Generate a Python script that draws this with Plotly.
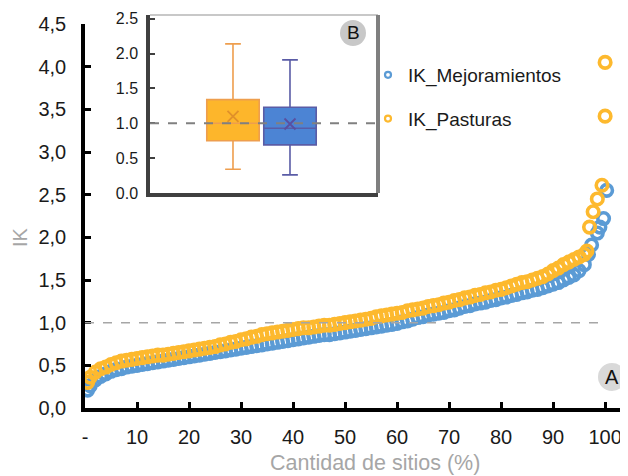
import plotly.graph_objects as go

# ---------------- data ----------------
pct_body = [1, 2, 3, 4, 5, 6, 7, 8, 9, 10, 11, 12, 13, 14, 15, 16, 17, 18, 19, 20,
            21, 22, 23, 24, 25, 26, 27, 28, 29, 30, 31, 32, 33, 34, 35, 36, 37, 38, 39, 40,
            41, 42, 43, 44, 45, 46, 47, 48, 49, 50, 51, 52, 53, 54, 55, 56, 57, 58, 59, 60,
            61, 62, 63, 64, 65, 66, 67, 68, 69, 70, 71, 72, 73, 74, 75, 76, 77, 78, 79, 80,
            81, 82, 83, 84, 85, 86, 87, 88, 89, 90, 91, 92, 93, 94, 95, 96]

ik_mej_body = [0.26, 0.33, 0.37, 0.40, 0.43, 0.45, 0.46, 0.48, 0.49, 0.50,
               0.51, 0.52, 0.53, 0.54, 0.55, 0.56, 0.57, 0.58, 0.59, 0.60,
               0.61, 0.62, 0.63, 0.64, 0.65, 0.66, 0.67, 0.68, 0.69, 0.70,
               0.71, 0.72, 0.73, 0.74, 0.75, 0.76, 0.77, 0.78, 0.79, 0.80,
               0.81, 0.82, 0.83, 0.84, 0.85, 0.86, 0.86, 0.87, 0.88, 0.89,
               0.90, 0.91, 0.92, 0.93, 0.94, 0.95, 0.96, 0.97, 0.98, 0.99,
               1.01, 1.02, 1.04, 1.06, 1.07, 1.09, 1.10, 1.11, 1.12, 1.14,
               1.15, 1.17, 1.19, 1.20, 1.22, 1.23, 1.24, 1.26, 1.27, 1.29,
               1.30, 1.32, 1.33, 1.35, 1.36, 1.38, 1.39, 1.41, 1.43, 1.45,
               1.47, 1.50, 1.53, 1.56, 1.61, 1.68]
mej_head_pct = [0.5]
mej_head_ik = [0.21]
mej_tail_pct = [96.8, 97.4, 98.5, 99.0, 99.7, 100.3]
mej_tail_ik = [1.80, 1.91, 2.05, 2.12, 2.22, 2.55]

ik_pas_body = [0.36, 0.42, 0.46, 0.48, 0.51, 0.53, 0.55, 0.56, 0.57, 0.58,
               0.59, 0.60, 0.61, 0.62, 0.62, 0.63, 0.64, 0.65, 0.66, 0.67,
               0.68, 0.69, 0.70, 0.71, 0.72, 0.74, 0.75, 0.77, 0.78, 0.80,
               0.81, 0.83, 0.84, 0.86, 0.87, 0.88, 0.89, 0.90, 0.91, 0.92,
               0.93, 0.94, 0.94, 0.95, 0.96, 0.97, 0.97, 0.98, 0.99, 1.00,
               1.01, 1.02, 1.03, 1.04, 1.05, 1.07, 1.08, 1.09, 1.10, 1.11,
               1.12, 1.14, 1.15, 1.16, 1.17, 1.19, 1.20, 1.21, 1.23, 1.24,
               1.26, 1.27, 1.29, 1.30, 1.32, 1.33, 1.35, 1.36, 1.38, 1.39,
               1.41, 1.43, 1.45, 1.47, 1.48, 1.50, 1.52, 1.54, 1.57, 1.61,
               1.64, 1.68, 1.71, 1.74, 1.77, 1.80]
pas_head_pct = [0.5]
pas_head_ik = [0.30]
pas_tail_pct = [96.5, 97.0, 97.7, 98.5, 99.4, 100.0, 100.0]
pas_tail_ik = [1.84, 2.12, 2.30, 2.45, 2.61, 3.42, 4.05]

y_ticks = [0, 0.5, 1, 1.5, 2, 2.5, 3, 3.5, 4, 4.5]
y_ticktext = ["0,0", "0,5", "1,0", "1,5", "2,0", "2,5", "3,0", "3,5", "4,0", "4,5"]
x_ticks = [0, 10, 20, 30, 40, 50, 60, 70, 80, 90, 100]
x_ticktext = ["-", "10", "20", "30", "40", "50", "60", "70", "80", "90", "100"]

# inset box plot (B)
box_names = ["IK_Pasturas", "IK_Mejoramientos"]
box_pos = [1, 2]
box_q1 = [0.75, 0.69]
box_median = [1.00, 0.93]
box_q3 = [1.34, 1.23]
box_low = [0.34, 0.26]
box_high = [2.14, 1.91]
box_mean = [1.10, 0.99]
inset_ticks = [0, 0.5, 1.0, 1.5, 2.0, 2.5]

BLUE = "#5B9BD5"
ORANGE = "#FDB92E"
FONT = "Liberation Sans, Arial, sans-serif"

# ---------------- geometry ----------------
# the page adds an 8 px body margin, so the figure is 8 px smaller on each side
OFF = 8
W, H = 628 - OFF, 476 - OFF
L, R, T, B = 85 - OFF, 0, 2, 68
PW, PH = W - L - R, H - T - B


def px_x(px):  # screen pixel -> paper
    return (px - OFF - L) / PW


def px_y(py):
    return (H - B - (py - OFF)) / PH


fig = go.Figure()

pct_mej = mej_head_pct + pct_body + mej_tail_pct
ik_mej = mej_head_ik + ik_mej_body + mej_tail_ik
pct_pas = pas_head_pct + pct_body + pas_tail_pct
ik_pas = pas_head_ik + ik_pas_body + pas_tail_ik

fig.add_trace(go.Scatter(x=pct_mej, y=ik_mej, mode="markers", showlegend=False,
                         marker=dict(symbol="circle-open", size=11.5, color=BLUE,
                                     line=dict(width=3.6, color=BLUE))))
fig.add_trace(go.Scatter(x=pct_pas, y=ik_pas, mode="markers", showlegend=False,
                         marker=dict(symbol="circle-open", size=11.5, color=ORANGE,
                                     line=dict(width=3.6, color=ORANGE))))

# legend entries
fig.add_trace(go.Scatter(x=[None], y=[None], mode="markers", name="IK_Mejoramientos",
                         legendgroup="a",
                         marker=dict(symbol="circle-open", size=6, color=BLUE,
                                     line=dict(width=2.2, color=BLUE))))
fig.add_trace(go.Scatter(x=[None], y=[None], mode="markers", name="IK_Pasturas",
                         legendgroup="b",
                         marker=dict(symbol="circle-open", size=6, color=ORANGE,
                                     line=dict(width=2.2, color=ORANGE))))

# inset boxes
box_fill = ["#FDB62B", "#4C84D4"]
box_line = ["#EE9E4E", "#5A5CA6"]
for i in range(2):
    fig.add_trace(go.Box(x=[box_pos[i]], q1=[box_q1[i]], median=[box_median[i]],
                         q3=[box_q3[i]], lowerfence=[box_low[i]], upperfence=[box_high[i]],
                         name=box_names[i], width=0.92, whiskerwidth=0.3,
                         fillcolor=box_fill[i], line=dict(color=box_line[i], width=1.6),
                         boxpoints=False, showlegend=False, xaxis="x2", yaxis="y2",
                         hoverinfo="skip"))
fig.add_trace(go.Scatter(x=box_pos, y=box_mean, mode="markers", showlegend=False,
                         xaxis="x2", yaxis="y2",
                         marker=dict(symbol="x-thin-open", size=11,
                                     color=["#E0902A", "#5A4FA0"],
                                     line=dict(width=1.8))))

inset_x0, inset_x1 = px_x(150), px_x(378)
inset_y0, inset_y1 = px_y(193), px_y(15)

shapes = [
    dict(type="line", xref="x", yref="y", x0=0, x1=99.5, y0=1, y1=1,
         line=dict(color="#A6A6A6", width=1.5, dash="dash")),
    dict(type="line", xref="paper", yref="paper", x0=inset_x0, x1=inset_x1,
         y0=inset_y1, y1=inset_y1, line=dict(color="#C8C8C8", width=2)),
    dict(type="line", xref="paper", yref="paper", x0=inset_x1, x1=inset_x1,
         y0=inset_y0, y1=inset_y1, line=dict(color="#7F7F7F", width=4)),
    dict(type="line", xref="paper", yref="y2", x0=inset_x0, x1=inset_x1, y0=1, y1=1,
         line=dict(color="#808080", width=2, dash="dash")),
    dict(type="circle", xref="paper", yref="paper", xsizemode="pixel", ysizemode="pixel",
         xanchor=px_x(612), yanchor=px_y(377), x0=-14, x1=14, y0=-14, y1=14,
         fillcolor="#D9D9D9", line=dict(width=0)),
    dict(type="circle", xref="paper", yref="paper", xsizemode="pixel", ysizemode="pixel",
         xanchor=px_x(353), yanchor=px_y(33), x0=-13, x1=13, y0=-13, y1=13,
         fillcolor="#C8C8C8", line=dict(width=0)),
]

annotations = [
    dict(text="A", xref="paper", yref="paper", x=px_x(612), y=px_y(377), showarrow=False,
         xanchor="center", yanchor="middle",
         font=dict(family=FONT, size=20, color="#111111")),
    dict(text="B", xref="paper", yref="paper", x=px_x(353), y=px_y(33), showarrow=False,
         xanchor="center", yanchor="middle",
         font=dict(family=FONT, size=19, color="#111111")),
    dict(text="IK", xref="paper", yref="paper", x=px_x(20), y=px_y(237), showarrow=False,
         xanchor="center", yanchor="middle",
         textangle=-90, font=dict(family=FONT, size=20, color="#A6A6A6")),
    dict(text="Cantidad de sitios (%)", xref="paper", yref="paper", x=px_x(375),
         y=px_y(463), showarrow=False, xanchor="center", yanchor="middle",
         font=dict(family=FONT, size=21.5, color="#A6A6A6")),
]

fig.update_layout(
    width=W, height=H,
    margin=dict(l=L, r=R, t=T, b=B, autoexpand=False),
    paper_bgcolor="white", plot_bgcolor="white",
    font=dict(family=FONT, size=20, color="#1A1A1A"),
    shapes=shapes, annotations=annotations,
    legend=dict(x=px_x(368), y=px_y(56), xanchor="left", yanchor="top",
                bgcolor="rgba(0,0,0,0)", tracegroupgap=16,
                font=dict(family=FONT, size=19, color="#1A1A1A")),
    xaxis=dict(range=[0, 104.4], domain=[0, 1], tickvals=x_ticks, ticktext=x_ticktext,
               automargin=False,
               showgrid=False, zeroline=False, showline=True, linecolor="black",
               linewidth=3.5, ticks="inside", ticklen=6, tickwidth=3, tickcolor="black",
               ticklabelstandoff=8),
    yaxis=dict(range=[0, 4.5], domain=[0, px_y(24)], tickvals=y_ticks,
               ticktext=y_ticktext, automargin=False,
               showgrid=False, zeroline=False, showline=True,
               linecolor="black", linewidth=3.5, ticks="inside", ticklen=6, tickwidth=3,
               tickcolor="black", ticklabelstandoff=11),
    xaxis2=dict(domain=[inset_x0, inset_x1], range=[-0.456, 3.544], anchor="y2",
                automargin=False,
                showticklabels=False, showgrid=False, zeroline=False, showline=True,
                linecolor="#404040", linewidth=3.5, ticks=""),
    yaxis2=dict(domain=[inset_y0, inset_y1], range=[0, 2.554], anchor="x2",
                automargin=False,
                tickvals=inset_ticks, tickformat=".1f", showgrid=False, zeroline=False,
                showline=True, linecolor="#404040", linewidth=3.5, ticks="inside",
                ticklen=5, tickwidth=1.5, tickcolor="#404040", ticklabelstandoff=5,
                tickfont=dict(family=FONT, size=16, color="#1A1A1A")),
)

fig.write_html("out.html")
